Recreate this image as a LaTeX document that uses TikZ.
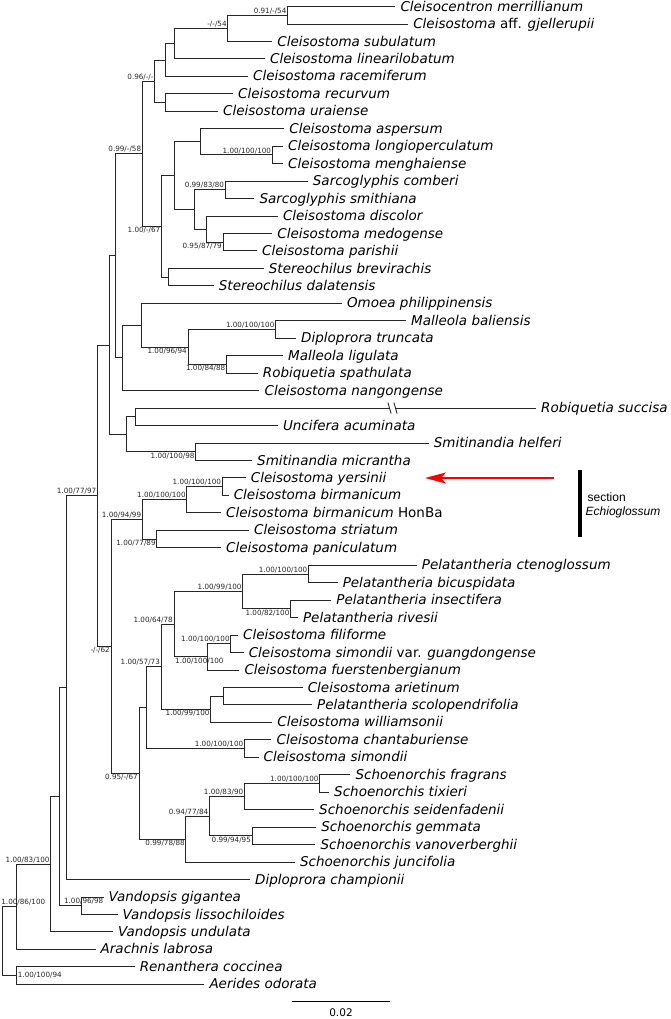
\documentclass[tikz,border=0pt]{standalone}
\usepackage{fontspec}
\setmainfont{DejaVu Sans}
\newfontfamily\secfont{Liberation Sans}
\usetikzlibrary{calc,arrows.meta}
\tikzset{
  br/.style={draw=black!85, line width=0.9pt},
  tiplab/.style={anchor=base west, inner sep=0pt, xshift=5pt, yshift=-4.6pt, font=\fontsize{13.5}{16}\selectfont\itshape},
  suplab/.style={inner sep=1pt, font=\fontsize{7.2}{8}\selectfont, text=black!85},
  sectxt/.style={anchor=west, inner sep=0pt, font=\secfont\fontsize{12}{14}\selectfont},
}
\newcommand\mytip[4]{\coordinate (#1) at ({#3},{6.5+17.46*(#2-1)}); \node[tiplab] (#1-l) at (#1) {#4};}
\newcommand\mynode[4]{\path let \p1=($(#3)!.5!(#4)$) in coordinate (#1) at (#2pt,\y1); \draw[br] (#1) |- (#3); \draw[br] (#1) |- (#4);}
\newcommand\supA[2]{\node[suplab, anchor=south east] (#1-s) at (#1) {#2};}
\newcommand\supB[2]{\node[suplab, anchor=north east] (#1-s) at (#1) {#2};}
\begin{document}
\begin{tikzpicture}[x=1pt,y=-1pt]
\useasboundingbox (0,0) rectangle (670,1019);
% tips
\mytip{t1}{1}{395.3}{Cleisocentron merrillianum}
\mytip{t2}{2}{408.1}{Cleisostoma {\upshape aff.} gjellerupii}
\mytip{t3}{3}{272.2}{Cleisostoma subulatum}
\mytip{t4}{4}{265}{Cleisostoma linearilobatum}
\mytip{t5}{5}{247.9}{Cleisostoma racemiferum}
\mytip{t6}{6}{233}{Cleisostoma recurvum}
\mytip{t7}{7}{218}{Cleisostoma uraiense}
\mytip{t8}{8}{284.2}{Cleisostoma aspersum}
\mytip{t9}{9}{283}{Cleisostoma longioperculatum}
\mytip{t10}{10}{283}{Cleisostoma menghaiense}
\mytip{t11}{11}{307.7}{Sarcoglyphis comberi}
\mytip{t12}{12}{254.3}{Sarcoglyphis smithiana}
\mytip{t13}{13}{277.8}{Cleisostoma discolor}
\mytip{t14}{14}{272.2}{Cleisostoma medogense}
\mytip{t15}{15}{257}{Cleisostoma parishii}
\mytip{t16}{16}{263.7}{Stereochilus brevirachis}
\mytip{t17}{17}{213.7}{Stereochilus dalatensis}
\mytip{t18}{18}{341.9}{Omoea philippinensis}
\mytip{t19}{19}{406}{Malleola baliensis}
\mytip{t20}{20}{296}{Diploprora truncata}
\mytip{t21}{21}{283}{Malleola ligulata}
\mytip{t22}{22}{257.7}{Robiquetia spathulata}
\mytip{t23}{23}{259.4}{Cleisostoma nangongense}
\mytip{t24}{24}{536}{Robiquetia succisa}
\mytip{t25}{25}{277.8}{Uncifera acuminata}
\mytip{t26}{26}{428.6}{Smitinandia helferi}
\mytip{t27}{27}{252}{Smitinandia micrantha}
\mytip{t28}{28}{245.7}{Cleisostoma yersinii}
\mytip{t29}{29}{228.6}{Cleisostoma birmanicum}
\mytip{t30}{30}{221}{Cleisostoma birmanicum {\upshape HonBa}}
\mytip{t31}{31}{249}{Cleisostoma striatum}
\mytip{t32}{32}{221}{Cleisostoma paniculatum}
\mytip{t33}{33}{416.7}{Pelatantheria ctenoglossum}
\mytip{t34}{34}{337.6}{Pelatantheria bicuspidata}
\mytip{t35}{35}{331.2}{Pelatantheria insectifera}
\mytip{t36}{36}{297.9}{Pelatantheria rivesii}
\mytip{t37}{37}{238}{Cleisostoma filiforme}
\mytip{t38}{38}{243.6}{Cleisostoma simondii {\upshape var.} guangdongense}
\mytip{t39}{39}{239.3}{Cleisostoma fuerstenbergianum}
\mytip{t40}{40}{302.6}{Cleisostoma arietinum}
\mytip{t41}{41}{312}{Pelatantheria scolopendrifolia}
\mytip{t42}{42}{272.2}{Cleisostoma williamsonii}
\mytip{t43}{43}{271.4}{Cleisostoma chantaburiense}
\mytip{t44}{44}{258.5}{Cleisostoma simondii}
\mytip{t45}{45}{350.4}{Schoenorchis fragrans}
\mytip{t46}{46}{329}{Schoenorchis tixieri}
\mytip{t47}{47}{314}{Schoenorchis seidenfadenii}
\mytip{t48}{48}{316.2}{Schoenorchis gemmata}
\mytip{t49}{49}{315.4}{Schoenorchis vanoverberghii}
\mytip{t50}{50}{294.9}{Schoenorchis juncifolia}
\mytip{t51}{51}{250}{Diploprora championii}
\mytip{t52}{52}{103.5}{Vandopsis gigantea}
\mytip{t53}{53}{117.5}{Vandopsis lissochiloides}
\mytip{t54}{54}{113}{Vandopsis undulata}
\mytip{t55}{55}{95.5}{Arachnis labrosa}
\mytip{t56}{56}{134.6}{Renanthera coccinea}
\mytip{t57}{57}{204.3}{Aerides odorata}
% internal nodes
\mynode{A}{287.6}{t1}{t2}
\mynode{B}{227.8}{A}{t3}
\mynode{C}{174.4}{B}{t4}
\mynode{D}{165.4}{C}{t5}
\mynode{E}{165.4}{t6}{t7}
\mynode{F}{154.7}{D}{E}
\mynode{I}{272.2}{t9}{t10}
\mynode{J}{200.9}{t8}{I}
\mynode{K}{225.2}{t11}{t12}
\mynode{M}{223}{t14}{t15}
\mynode{L}{206.4}{t13}{M}
\mynode{N}{194.4}{K}{L}
\mynode{O}{174.4}{J}{N}
\mynode{Q}{168.8}{t16}{t17}
\mynode{P}{161.5}{O}{Q}
\mynode{G}{142.3}{F}{P}
\mynode{W}{275.6}{t19}{t20}
\mynode{X}{226.5}{t21}{t22}
\mynode{V}{188}{W}{X}
\mynode{U}{141}{t18}{V}
\mynode{T}{122.6}{U}{t23}
\mynode{R}{115.4}{G}{T}
% node with broken branch
\path let \p1=($(t24)!.5!(t25)$) in coordinate (Y) at (135pt,\y1);
\path let \p1=(t24) in coordinate (bk1) at (389.5pt,\y1) coordinate (bk2) at (395.5pt,\y1);
\draw[br] (Y) |- (bk1);
\draw[br] (bk2) -- (t24);
\draw[br] (Y) |- (t25);
\draw[br] ($(bk1)+(-1.6,-5.5)$) -- ($(bk1)+(1.6,5.5)$);
\draw[br] ($(bk2)+(-1.6,-5.5)$) -- ($(bk2)+(1.6,5.5)$);
\mynode{Z}{195.7}{t26}{t27}
\mynode{AA}{126}{Y}{Z}
\mynode{AB}{109.8}{R}{AA}
\mynode{AE}{222.2}{t28}{t29}
\mynode{AF}{186.8}{AE}{t30}
\mynode{AG}{156.8}{t31}{t32}
\mynode{AH}{142.3}{AF}{AG}
\mynode{AN}{308.5}{t33}{t34}
\mynode{AO}{290.6}{t35}{t36}
\mynode{AP}{242.7}{AN}{AO}
\mynode{AQ}{230.8}{t37}{t38}
\mynode{AR}{207.3}{AQ}{t39}
\mynode{AS}{174}{AP}{AR}
\mynode{AT}{223}{t40}{t41}
\mynode{AU}{210.7}{AT}{t42}
\mynode{AV}{161.1}{AS}{AU}
\mynode{AW}{244.4}{t43}{t44}
\mynode{AL}{146.6}{AV}{AW}
\mynode{AX}{319.7}{t45}{t46}
\mynode{AY}{244.4}{AX}{t47}
\mynode{AZ}{252.1}{t48}{t49}
\mynode{BA}{209.4}{AY}{AZ}
\mynode{BB}{185.9}{BA}{t50}
\mynode{AK}{139}{AL}{BB}
\mynode{AJ}{111}{AH}{AK}
\mynode{AC}{97.4}{AB}{AJ}
\mynode{BC}{66.7}{AC}{t51}
\mynode{BE}{81.2}{t52}{t53}
\mynode{BD}{59.3}{BC}{BE}
\mynode{BG}{50.7}{BD}{t54}
\mynode{BH}{16.7}{BG}{t55}
\mynode{BI}{16.7}{t56}{t57}
\mynode{RT}{2}{BH}{BI}
% support values
\supA{A}{0.91/-/54}
\supA{B}{-/-/54}
\supA{F}{0.96/-/-}
\supA{G}{0.99/-/58}
\supA{I}{1.00/100/100}
\supA{K}{0.99/83/80}
\supB{M}{0.95/87/79}
\supB{P}{1.00/-/67}
\supA{W}{1.00/100/100}
\supB{V}{1.00/96/94}
\supB{X}{1.00/84/88}
\supB{Z}{1.00/100/98}
\supA{AE}{1.00/100/100}
\supA{AF}{1.00/100/100}
\supB{AG}{1.00/77/89}
\supA{AH}{1.00/94/99}
\supA{AN}{1.00/100/100}
\supA{AP}{1.00/99/100}
\supB{AO}{1.00/82/100}
\supA{AS}{1.00/64/78}
\supA{AQ}{1.00/100/100}
\node[suplab, anchor=north west] (AR-s) at (AS |- AR) {1.00/100/100};
\supA{AV}{1.00/57/73}
\supB{AU}{1.00/99/100}
\supA{AW}{1.00/100/100}
\supA{AX}{1.00/100/100}
\supA{AY}{1.00/83/90}
\supB{AZ}{0.99/94/95}
\supA{BA}{0.94/77/84}
\supB{BB}{0.99/78/88}
\supB{AK}{0.95/-/67}
\supB{AJ}{-/-/62}
\supA{AC}{1.00/77/97}
\supA{BG}{1.00/83/100}
\node[suplab, anchor=south, xshift=2.5pt] (BE-s) at (BE) {1.00/96/98};
\node[suplab, anchor=south west] (BH-s) at ($(BH)+(-16.5,0)$) {1.00/86/100};
\node[suplab, anchor=west] (BI-s) at (BI) {1.00/100/94};
% red arrow
\coordinate (arS) at (554,478);
\coordinate (arE) at (425,478);
\draw[red, line width=2pt, -{Stealth[length=21pt,width=11pt,inset=5pt]}] (arS) -- (arE);
% section bar
\coordinate (sbT) at (580,470);
\coordinate (sbB) at (580,537);
\draw[line width=4pt] (sbT) -- (sbB);
\node[sectxt] (sec1) at (587.5,497) {section};
\node[sectxt] (sec2) at (585.5,512) {\itshape Echioglossum};
% scale bar
\coordinate (scL) at (292,1001);
\coordinate (scR) at (390,1001);
\draw[line width=1pt] (scL) -- (scR);
\node[font=\fontsize{10.5}{12}\selectfont, inner sep=0pt] (scT) at (341,1012.5) {0.02};
\end{tikzpicture}
\end{document}
